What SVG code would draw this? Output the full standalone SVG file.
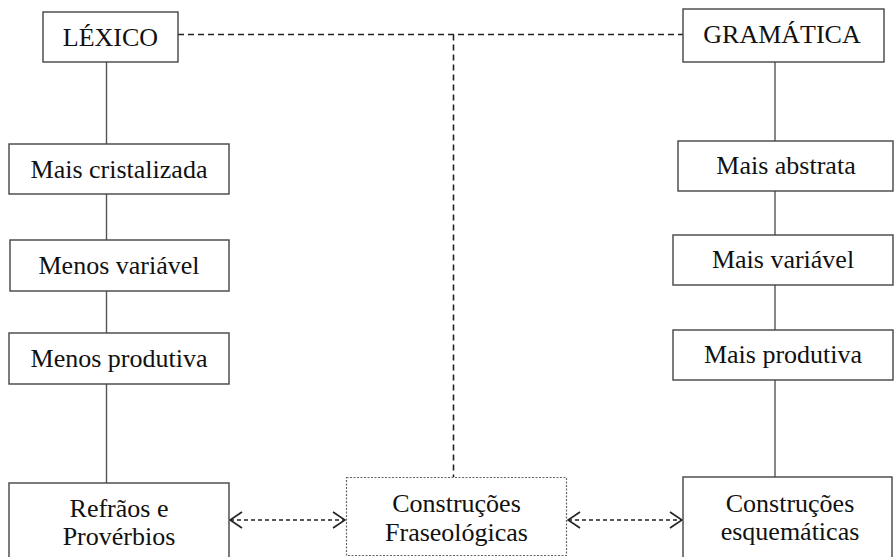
<svg xmlns="http://www.w3.org/2000/svg" width="894" height="557" viewBox="0 0 894 557">
  <style>
    .box { fill: #ffffff; stroke: #444444; stroke-width: 1.4; }
    .box-dotted { fill: #ffffff; stroke: #666666; stroke-width: 1.2; stroke-dasharray: 2 1.5; }
    .label { font-family: "Liberation Serif", "Times New Roman", serif; font-size: 26px; fill: #111111; text-anchor: middle; }
    .solid { stroke: #555555; stroke-width: 1.4; fill: none; }
    .dash { stroke: #222222; stroke-width: 1.6; fill: none; stroke-dasharray: 6 4; }
    .dash-arrow { stroke: #222222; stroke-width: 1.5; fill: none; stroke-dasharray: 4 3; }
  </style>
  <defs>
    <marker id="chevron" viewBox="0 0 14 18" refX="13" refY="9" markerWidth="14" markerHeight="18" markerUnits="userSpaceOnUse" orient="auto-start-reverse">
      <path d="M1,1 L13,9 L1,17" fill="none" stroke="#222222" stroke-width="1.6"/>
    </marker>
  </defs>

  <rect width="894" height="557" fill="#ffffff"/>

  <!-- connectors -->
  <g id="connectors">
    <!-- lexicon column -->
    <line class="solid" x1="106.5" y1="62" x2="106.5" y2="144"/>
    <line class="solid" x1="106.5" y1="194" x2="106.5" y2="240"/>
    <line class="solid" x1="106.5" y1="291" x2="106.5" y2="333"/>
    <line class="solid" x1="106.5" y1="384" x2="106.5" y2="483"/>
    <!-- grammar column -->
    <line class="solid" x1="775" y1="62" x2="775" y2="141"/>
    <line class="solid" x1="775" y1="191" x2="775" y2="235"/>
    <line class="solid" x1="775" y1="285" x2="775" y2="330"/>
    <line class="solid" x1="775" y1="380" x2="775" y2="477"/>
    <!-- dashed link between the two poles, dropping to the phraseological node -->
    <path class="dash" d="M178,34.5 H683"/>
    <path class="dash" d="M453.5,34.5 V477"/>
    <!-- bidirectional arrows -->
    <line class="dash-arrow" x1="230" y1="520" x2="345" y2="520" marker-start="url(#chevron)" marker-end="url(#chevron)"/>
    <line class="dash-arrow" x1="568" y1="520" x2="682" y2="520" marker-start="url(#chevron)" marker-end="url(#chevron)"/>
  </g>

  <g id="lexico">
    <rect class="box" x="43" y="12" width="135" height="50"/>
    <text class="label" x="110.5" y="46">LÉXICO</text>
  </g>
  <g id="gramatica">
    <rect class="box" x="683" y="9" width="201" height="53"/>
    <text class="label" x="782" y="43">GRAMÁTICA</text>
  </g>

  <g id="mais-cristalizada">
    <rect class="box" x="9" y="144" width="220" height="50"/>
    <text class="label" x="119" y="178">Mais cristalizada</text>
  </g>
  <g id="menos-variavel">
    <rect class="box" x="10" y="240" width="219" height="51"/>
    <text class="label" x="119" y="274">Menos variável</text>
  </g>
  <g id="menos-produtiva">
    <rect class="box" x="9" y="333" width="220" height="51"/>
    <text class="label" x="119" y="367">Menos produtiva</text>
  </g>

  <g id="mais-abstrata">
    <rect class="box" x="678" y="141" width="215" height="50"/>
    <text class="label" x="786" y="174">Mais abstrata</text>
  </g>
  <g id="mais-variavel">
    <rect class="box" x="673" y="235" width="220" height="50"/>
    <text class="label" x="783" y="268">Mais variável</text>
  </g>
  <g id="mais-produtiva">
    <rect class="box" x="673" y="330" width="220" height="50"/>
    <text class="label" x="783" y="363">Mais produtiva</text>
  </g>

  <g id="refraos">
    <rect class="box" x="9" y="483" width="220" height="80"/>
    <text class="label" x="119" y="517">Refrãos e</text>
    <text class="label" x="119" y="545">Provérbios</text>
  </g>
  <g id="fraseologicas">
    <rect class="box-dotted" x="346.5" y="477.5" width="220" height="78"/>
    <text class="label" x="456.5" y="512">Construções</text>
    <text class="label" x="456.5" y="541">Fraseológicas</text>
  </g>
  <g id="esquematicas">
    <rect class="box" x="683" y="477" width="209" height="86"/>
    <text class="label" x="790" y="512">Construções</text>
    <text class="label" x="790" y="540">esquemáticas</text>
  </g>
</svg>
